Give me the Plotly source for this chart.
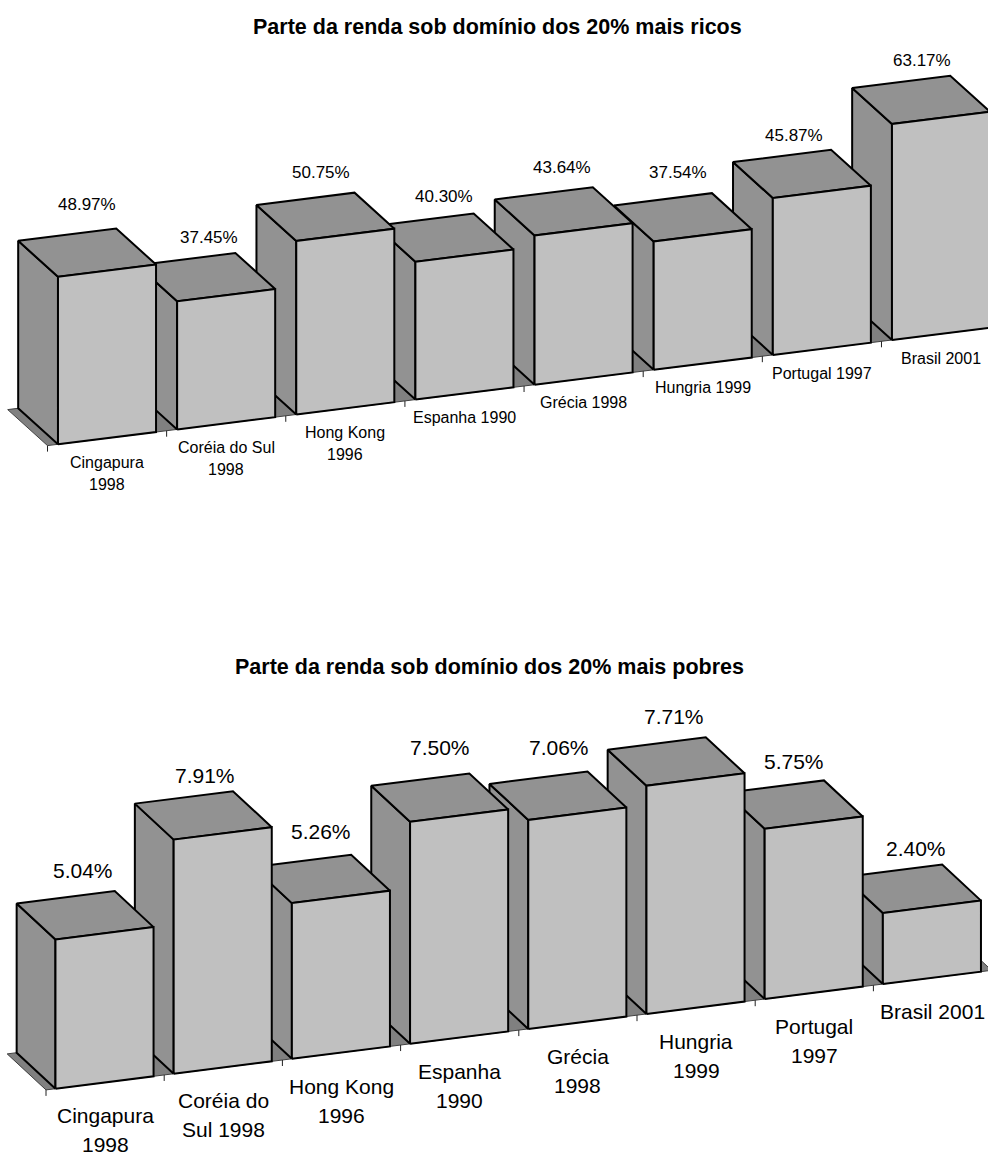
import plotly.graph_objects as go

# Data ---------------------------------------------------------------------
TITLE_RICH = "Parte da renda sob domínio dos 20% mais ricos"
TITLE_POOR = "Parte da renda sob domínio dos 20% mais pobres"

LABELS_RICH = ["Cingapura<br>1998", "Coréia do Sul<br>1998", "Hong Kong<br>1996", "Espanha 1990",
               "Grécia 1998", "Hungria 1999", "Portugal 1997", "Brasil 2001"]
LABELS_POOR = ["Cingapura<br>1998", "Coréia do<br>Sul 1998", "Hong Kong<br>1996", "Espanha<br>1990",
               "Grécia<br>1998", "Hungria<br>1999", "Portugal<br>1997", "Brasil 2001"]

VALUES_RICH = [48.97, 37.45, 50.75, 40.30, 43.64, 37.54, 45.87, 63.17]
VALUES_POOR = [5.04, 7.91, 5.26, 7.50, 7.06, 7.71, 5.75, 2.40]

# Small nudges (px) that keep the value labels clear of the bar tops
NUDGE_RICH = [(0, -47.7), (3, -40), (-4, -43.8), (-1, -41.6), (-2, -44.3), (-5, -44.3), (-8, -38.4), (1, -39.8)]
NUDGE_POOR = [(-3, -45), (1, -40), (-1, -47), (0, -50.5), (0, -48.6), (-3, -45.4), (-1, -43.5), (3, -40)]

# Page and colours ---------------------------------------------------------
WIDTH, HEIGHT = 988, 1155
FRONT, SHADE, FLOOR = "#C0C0C0", "#929292", "#808080"
FONT = "Liberation Sans"

PANELS = [
    dict(labels=LABELS_RICH, values=VALUES_RICH, nudge=NUDGE_RICH, title=TITLE_RICH,
         band=(0, 560), x0=47.5, slot=119.14, base=445.6, rise=14.9, px_per_unit=3.42,
         depth=(39.8, 36.0), gap=0.088, bar=0.823, value_font=17, cat_font=16,
         title_x=497, title_y=27, cat_dy=24.3, line_gap=22, ax=""),
    dict(labels=LABELS_POOR, values=VALUES_POOR, nudge=NUDGE_POOR, title=TITLE_POOR,
         band=(560, 1155), x0=46.0, slot=118.2, base=1089.9, rise=14.95, px_per_unit=29.6,
         depth=(38.8, 36.0), gap=0.08, bar=0.83, value_font=21, cat_font=21,
         title_x=489, title_y=667, cat_dy=33.5, line_gap=29, ax="2"),
]

fig = go.Figure()


def add_poly(xs, ys, fill, xa, ya, width=2, color="black"):
    fig.add_trace(go.Scatter(x=xs, y=ys, mode="lines", fill="toself" if fill else None,
                             fillcolor=fill, line=dict(color=color, width=width),
                             xaxis=xa, yaxis=ya, hoverinfo="skip", showlegend=False))


for p in PANELS:
    xa, ya = "x" + p["ax"], "y" + p["ax"]
    slot, unit = p["slot"], p["px_per_unit"]
    shear = p["rise"] / unit            # value units gained per category along the base
    dx = p["depth"][0] / slot           # category units lost at full depth
    dy = p["depth"][1] / unit           # value units gained at full depth

    def project(s, d, v):
        """Oblique projection of (category position, depth 0..1, value) onto the axes."""
        return s - d * dx, v + s * shear + d * dy

    def poly(points):
        pts = [project(*pt) for pt in points + points[:1]]
        return [q[0] for q in pts], [q[1] for q in pts]

    n = len(p["values"])

    # Floor and its front edge
    xs, ys = poly([(0, 0, 0), (n, 0, 0), (n, 1, 0), (0, 1, 0)])
    add_poly(xs, ys, FLOOR, xa, ya, width=1, color="#404040")
    for k in range(n + 1):
        tx, ty = project(k, 0, 0)
        add_poly([tx, tx], [ty, ty - 6 / unit], None, xa, ya, width=1, color="#202020")

    # Bars are painted from the far right forwards so that each one overlaps its neighbour
    for i in reversed(range(n)):
        v = p["values"][i]
        l, r = i + p["gap"], i + p["gap"] + p["bar"]
        xs, ys = poly([(l, 0, 0), (l, 1, 0), (l, 1, v), (l, 0, v)])
        add_poly(xs, ys, SHADE, xa, ya)
        xs, ys = poly([(l, 0, v), (l, 1, v), (r, 1, v), (r, 0, v)])
        add_poly(xs, ys, SHADE, xa, ya)
        xs, ys = poly([(l, 0, 0), (r, 0, 0), (r, 0, v), (l, 0, v)])
        add_poly(xs, ys, FRONT, xa, ya)

        # Value label above the centre of the top face
        cx, cy = project(i + 0.5, 0.5, v)
        fig.add_annotation(x=cx, y=cy, xref=xa, yref=ya, text=f"{v:.2f}%", showarrow=False,
                           xanchor="center", yanchor="middle",
                           xshift=p["nudge"][i][0], yshift=-p["nudge"][i][1],
                           font=dict(family=FONT, size=p["value_font"], color="black"))

        # Category label, one annotation per line for exact leading
        bx, by = project(i + 0.5, 0, 0)
        for j, line in enumerate(p["labels"][i].split("<br>")):
            fig.add_annotation(x=bx, y=by, xref=xa, yref=ya, text=line, showarrow=False,
                               xanchor="center", yanchor="middle",
                               yshift=-(p["cat_dy"] + j * p["line_gap"]),
                               font=dict(family=FONT, size=p["cat_font"], color="black"))

    # Panel title
    fig.add_annotation(x=p["title_x"] / WIDTH, y=1 - p["title_y"] / HEIGHT, xref="paper", yref="paper",
                       text=f"<b>{p['title']}</b>", showarrow=False, xanchor="center", yanchor="middle",
                       font=dict(family=FONT, size=21.5, color="black"))

    # Axes are hidden; their ranges place one category and one value unit on the page
    top, bottom = p["band"]
    fig.update_layout(**{
        "xaxis" + p["ax"]: dict(domain=[0, 1], range=[-p["x0"] / slot, (WIDTH - p["x0"]) / slot], visible=False),
        "yaxis" + p["ax"]: dict(domain=[1 - bottom / HEIGHT, 1 - top / HEIGHT],
                                range=[(p["base"] - bottom) / unit, (p["base"] - top) / unit], visible=False),
    })

fig.update_layout(width=WIDTH, height=HEIGHT, margin=dict(l=0, r=0, t=0, b=0), showlegend=False,
                  paper_bgcolor="white", plot_bgcolor="white")
fig.write_html("out.html")
